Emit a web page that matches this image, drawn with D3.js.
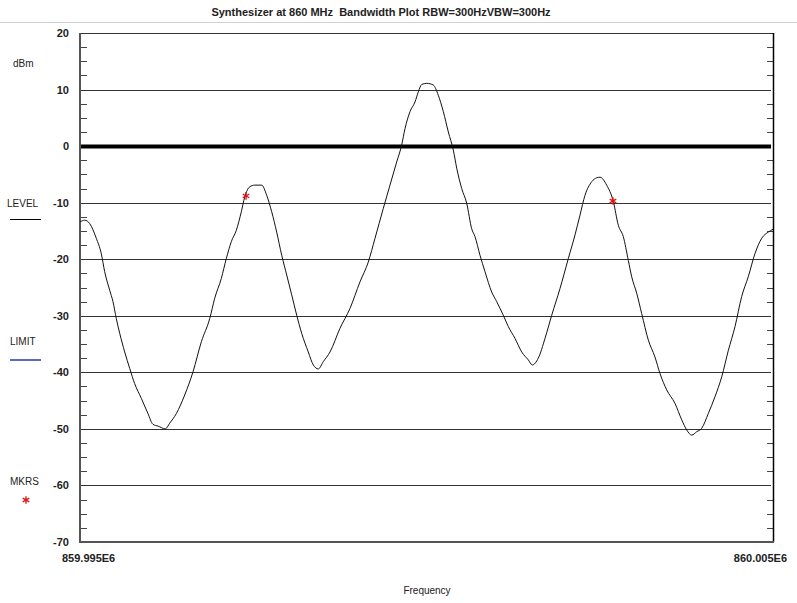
<!DOCTYPE html>
<html>
<head>
<meta charset="utf-8">
<script src="https://cdn.jsdelivr.net/npm/d3@7"></script>
<style>
  body { margin: 0; background: #fff; }
  text { font-family: "Liberation Sans", Arial, sans-serif; fill: #222; }
</style>
</head>
<body>
<svg id="chart" width="797" height="603"></svg>
<script>
// frequency start / stop (Hz)
const freqStart = 859.995e6;
const freqStop = 860.005e6;
const freqTickLabels = ['859.995E6', '860.005E6'];

// trace, offsets in Hz from 859.995E6 and level in dBm
const traceOffsetHz = [0, 68, 140, 235, 307, 356, 429, 476, 524, 573, 645, 717, 789, 885, 981, 1053, 1126, 1231, 1294, 1390,
  1511, 1631, 1751, 1872, 1944, 2039, 2111, 2183, 2255, 2328, 2377, 2449, 2521, 2622, 2694, 2766, 2838, 2911, 2983, 3055,
  3127, 3199, 3294, 3367, 3439, 3511, 3608, 3752, 3896, 4040, 4160, 4257, 4377, 4473, 4570, 4642, 4690, 4762, 4834, 4882,
  4931, 5003, 5098, 5170, 5243, 5315, 5387, 5436, 5508, 5580, 5652, 5700, 5772, 5844, 5941, 6013, 6108, 6180, 6277, 6374,
  6469, 6527, 6613, 6710, 6807, 6926, 7046, 7143, 7215, 7287, 7384, 7456, 7504, 7600, 7696, 7768, 7840, 7912, 7961, 8033,
  8105, 8201, 8297, 8369, 8466, 8586, 8683, 8755, 8827, 8899, 8971, 9066, 9163, 9260, 9356, 9452, 9548, 9643, 9740, 9837,
  9932, 10000];
const traceLevel = [-13.4, -13.1, -13.7, -16.3, -19.0, -22.2, -25.5, -27.5, -30.5, -33.1, -36.4, -39.3, -42.0, -44.6, -47.3, -49.2, -49.5, -50.0, -49.0, -47.3,
  -44.0, -39.9, -34.6, -30.5, -26.9, -23.4, -19.9, -16.9, -14.9, -11.6, -9.0, -7.2, -6.9, -6.9, -8.7, -11.6, -15.2, -19.3, -22.8, -26.3,
  -29.9, -33.1, -36.4, -38.7, -39.4, -38.1, -36.4, -32.2, -28.7, -24.0, -20.5, -16.3, -11.0, -6.9, -2.8, 0.2, 3.1, 6.1, 7.8, 9.6,
  10.9, 11.1, 10.8, 9.0, 6.1, 2.5, -0.7, -3.9, -7.5, -10.1, -14.6, -16.0, -19.3, -22.2, -25.8, -27.5, -29.9, -31.9, -34.0, -36.4,
  -37.8, -38.7, -37.5, -34.0, -29.9, -25.2, -19.9, -15.7, -12.2, -8.7, -6.3, -5.6, -5.5, -6.9, -9.8, -14.0, -16.0, -20.2, -23.1, -26.0,
  -29.6, -34.3, -37.3, -40.2, -43.1, -45.5, -48.4, -50.2, -51.1, -50.5, -49.9, -47.3, -44.3, -40.8, -36.1, -31.9, -26.6, -23.1, -19.0, -16.3,
  -15.2, -14.7];

// markers
const markerOffsetHz = [2396, 7691];
const markerLevel = [-8.8, -9.7];

const yMajorTicks = [20, 10, 0, -10, -20, -30, -40, -50, -60, -70];

const svg = d3.select('#chart');
const plotLeft = 80, plotRight = 773, plotTop = 33, plotBottom = 542;

const x = d3.scaleLinear().domain([freqStart, freqStop]).range([plotLeft, plotRight]);
const y = d3.scaleLinear().domain([-70, 20]).range([plotBottom, plotTop]);

// title
svg.append('text').attr('x', 381).attr('y', 16).attr('text-anchor', 'middle')
  .style('font-size', '11px').style('font-weight', 'bold')
  .text('Synthesizer at 860 MHz\u00a0 Bandwidth Plot RBW=300HzVBW=300Hz');
svg.append('line').attr('x1', 0).attr('x2', 797).attr('y1', 22.5).attr('y2', 22.5)
  .attr('stroke', '#d0d0d0').attr('stroke-width', 1);

// grid lines
const grid = yMajorTicks.filter(d => d < 20 && d > -70);
svg.selectAll('.grid').data(grid).join('line').attr('class', 'grid')
  .attr('x1', plotLeft).attr('x2', plotRight - 2)
  .attr('y1', d => Math.round(y(d)) + 0.5).attr('y2', d => Math.round(y(d)) + 0.5)
  .attr('stroke', d => d === 0 ? '#000' : '#333')
  .attr('stroke-width', d => d === 0 ? 4 : 1);

// minor ticks
const minor = d3.range(-70, 20.01, 2.5).filter(d => d % 10 !== 0);
svg.selectAll('.minorL').data(minor).join('line').attr('class', 'minorL')
  .attr('x1', plotLeft).attr('x2', plotLeft + 7)
  .attr('y1', d => Math.round(y(d)) + 0.5).attr('y2', d => Math.round(y(d)) + 0.5)
  .attr('stroke', '#444');
svg.selectAll('.minorR').data(minor).join('line').attr('class', 'minorR')
  .attr('x1', plotRight - 6).attr('x2', plotRight)
  .attr('y1', d => Math.round(y(d)) + 0.5).attr('y2', d => Math.round(y(d)) + 0.5)
  .attr('stroke', '#444');

// frame
svg.append('line').attr('x1', plotLeft).attr('x2', plotRight).attr('y1', plotTop + 0.5).attr('y2', plotTop + 0.5).attr('stroke', '#333');
svg.append('line').attr('x1', plotRight + 0.5).attr('x2', plotRight + 0.5).attr('y1', plotTop).attr('y2', plotBottom).attr('stroke', '#000').attr('stroke-width', 1.5);
svg.append('line').attr('x1', plotLeft).attr('x2', plotLeft).attr('y1', plotTop).attr('y2', plotBottom + 1).attr('stroke', '#555').attr('stroke-width', 2);
svg.append('line').attr('x1', plotLeft).attr('x2', plotRight + 1).attr('y1', plotBottom).attr('y2', plotBottom).attr('stroke', '#555').attr('stroke-width', 2);

// y tick labels
svg.selectAll('.ylab').data(yMajorTicks).join('text').attr('class', 'ylab')
  .attr('x', 69).attr('y', d => y(d) + 4).attr('text-anchor', 'end')
  .style('font-size', '11px').style('font-weight', 'bold')
  .text(d => d);

// x tick labels
svg.append('text').attr('x', 62).attr('y', 562).style('font-size', '11px').style('font-weight', 'bold')
  .text(freqTickLabels[0]);
svg.append('text').attr('x', 787).attr('y', 562).attr('text-anchor', 'end').style('font-size', '11px').style('font-weight', 'bold')
  .text(freqTickLabels[1]);
svg.append('text').attr('x', 427).attr('y', 594).attr('text-anchor', 'middle').style('font-size', '10px')
  .text('Frequency');

// trace
const trace = traceOffsetHz.map((o, i) => ({ f: freqStart + o, v: traceLevel[i] }));
const line = d3.line().x(d => x(d.f)).y(d => y(d.v)).curve(d3.curveMonotoneX);
svg.append('path').datum(trace).attr('d', line)
  .attr('fill', 'none').attr('stroke', '#111').attr('stroke-width', 1);

// markers
const star = d3.symbol().type(d3.symbolAsterisk).size(40);
const markers = markerOffsetHz.map((o, i) => ({ f: freqStart + o, v: markerLevel[i] }));
svg.selectAll('.mkr').data(markers).join('path').attr('class', 'mkr')
  .attr('d', star).attr('transform', d => `translate(${x(d.f)},${y(d.v)})`)
  .attr('fill', 'none').attr('stroke', '#e01010').attr('stroke-width', 1.3);

// left side legend
svg.append('text').attr('x', 13).attr('y', 67).style('font-size', '10px').text('dBm');
svg.append('text').attr('x', 7).attr('y', 207).style('font-size', '10px').text('LEVEL');
svg.append('line').attr('x1', 10).attr('x2', 41).attr('y1', 219.5).attr('y2', 219.5).attr('stroke', '#000');
svg.append('text').attr('x', 10).attr('y', 345).style('font-size', '10px').text('LIMIT');
svg.append('line').attr('x1', 10).attr('x2', 41).attr('y1', 360).attr('y2', 360).attr('stroke', '#2a3aa0').attr('stroke-width', 1.5);
svg.append('text').attr('x', 10).attr('y', 485).style('font-size', '10px').text('MKRS');
svg.append('path').attr('d', star).attr('transform', 'translate(26,500)')
  .attr('fill', 'none').attr('stroke', '#e01010').attr('stroke-width', 1.3);
</script>
</body>
</html>
